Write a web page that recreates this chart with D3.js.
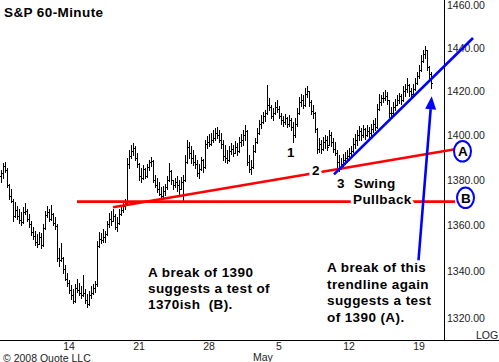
<!DOCTYPE html>
<html>
<head>
<meta charset="utf-8">
<script src="https://cdn.jsdelivr.net/npm/d3@7"></script>
<style>
    body { margin: 0; background: #fff; }
    svg { display: block; }
    text { font-family: "Liberation Sans", Arial, sans-serif; }
    .note { font-weight: bold; font-size: 13.5px; letter-spacing: 0.4px; fill: #000; }
    .tick { font-size: 10.5px; fill: #222; }
</style>
</head>
<body>
<svg id="chart" width="499" height="362"></svg>
<script>
// hourly bars, 7 per trading day, Apr 7 .. May 19 2008
const firstOpen = 1382;
const barHigh = [
    1384.7, 1387.8, 1388.2, 1385.6, 1378.5, 1375.9, 1371.5,
    1370.2, 1368.5, 1367.2, 1365.9, 1368.1, 1369.8, 1367.2,
    1365.1, 1362.0, 1359.5, 1357.7, 1356.4, 1357.3, 1356.9,
    1360.7, 1366.3, 1368.5, 1367.2, 1368.9, 1365.5, 1363.7,
    1360.7, 1350.0, 1352.6, 1346.5, 1343.0, 1339.3, 1336.3,
    1334.2, 1332.5, 1334.6, 1336.7, 1335.0, 1333.7, 1338.4,
    1332.5, 1330.4, 1331.7, 1333.7, 1334.6, 1335.9, 1353.4,
    1357.3, 1356.9, 1358.5, 1357.7, 1362.0, 1365.5, 1366.3,
    1367.2, 1365.1, 1363.7, 1367.2, 1368.5, 1370.2, 1371.5,
    1390.0, 1393.6, 1395.8, 1396.7, 1395.3, 1392.2, 1387.8,
    1385.6, 1386.9, 1385.6, 1387.3, 1389.1, 1390.4, 1389.0,
    1382.5, 1381.2, 1379.4, 1377.2, 1377.6, 1378.5, 1382.0,
    1387.8, 1384.7, 1380.3, 1381.2, 1382.0, 1380.3, 1381.6,
    1382.5, 1391.3, 1398.0, 1397.1, 1395.3, 1393.6, 1391.3,
    1389.1, 1387.3, 1390.4, 1389.6, 1398.0, 1399.8, 1400.7,
    1401.1, 1402.5, 1403.4, 1403.8, 1402.5, 1401.1, 1398.0,
    1395.8, 1393.6, 1395.3, 1396.7, 1395.8, 1397.6, 1396.7,
    1399.3, 1400.7, 1402.5, 1404.8, 1402.5, 1391.3, 1389.1,
    1395.8, 1398.9, 1403.4, 1407.0, 1409.3, 1410.7, 1411.6,
    1422.9, 1417.0, 1413.8, 1412.5, 1415.2, 1416.1, 1413.4,
    1410.2, 1408.8, 1409.8, 1408.4, 1409.3, 1407.9, 1406.1,
    1407.9, 1412.5, 1417.5, 1418.8, 1418.3, 1421.5, 1422.4,
    1420.1, 1416.1, 1413.8, 1410.7, 1403.4, 1398.9, 1398.0,
    1399.3, 1400.3, 1399.8, 1402.5, 1401.6, 1398.9, 1397.1,
    1393.6, 1391.3, 1390.0, 1391.8, 1392.7, 1393.6, 1394.5,
    1395.3, 1398.9, 1400.7, 1402.5, 1404.3, 1403.4, 1404.8,
    1403.4, 1404.8, 1403.8, 1405.2, 1407.0, 1407.9, 1414.3,
    1418.8, 1418.3, 1419.7, 1420.6, 1419.7, 1416.1, 1412.9,
    1415.2, 1416.6, 1418.3, 1419.2, 1418.8, 1422.4, 1423.3,
    1426.1, 1423.5, 1421.5, 1423.3, 1426.1, 1428.9, 1432.1,
    1436.8, 1439.1, 1440.9, 1439.1, 1431.7, 1428.9
];
const barLow = [
    1379.4, 1381.2, 1383.8, 1376.8, 1371.5, 1370.2, 1362.0,
    1363.7, 1362.9, 1361.2, 1360.3, 1361.0, 1365.1, 1362.0,
    1359.5, 1356.0, 1354.3, 1351.7, 1350.8, 1352.1, 1350.0,
    1351.0, 1358.5, 1363.7, 1362.0, 1362.5, 1360.3, 1358.5,
    1344.7, 1342.2, 1344.7, 1339.3, 1336.2, 1333.7, 1330.8,
    1328.2, 1326.5, 1327.0, 1331.2, 1329.9, 1328.7, 1329.4,
    1326.6, 1325.0, 1325.5, 1328.7, 1330.4, 1331.2, 1334.0,
    1350.5, 1352.6, 1353.0, 1352.9, 1356.0, 1359.5, 1360.3,
    1362.0, 1358.5, 1357.7, 1360.5, 1364.6, 1365.9, 1367.2,
    1369.5, 1385.6, 1390.0, 1391.3, 1389.1, 1386.0, 1380.3,
    1379.4, 1380.5, 1381.2, 1381.5, 1384.7, 1386.4, 1379.0,
    1376.8, 1374.6, 1373.3, 1371.5, 1372.4, 1373.3, 1375.9,
    1379.5, 1378.5, 1375.9, 1376.8, 1375.0, 1374.1, 1375.9,
    1370.7, 1379.5, 1387.5, 1390.0, 1387.8, 1386.9, 1385.6,
    1382.0, 1381.2, 1384.7, 1383.8, 1385.5, 1394.5, 1395.3,
    1395.8, 1397.1, 1398.0, 1398.9, 1397.1, 1394.5, 1389.1,
    1388.2, 1387.8, 1388.5, 1391.8, 1390.9, 1392.2, 1391.3,
    1392.5, 1395.3, 1395.8, 1398.0, 1386.9, 1383.8, 1382.9,
    1385.5, 1392.5, 1396.5, 1400.5, 1403.4, 1405.5, 1406.5,
    1409.5, 1411.6, 1407.9, 1407.0, 1409.8, 1410.7, 1407.9,
    1405.2, 1404.3, 1405.2, 1403.8, 1404.3, 1402.5, 1397.1,
    1399.5, 1404.5, 1409.5, 1413.4, 1412.5, 1413.5, 1417.5,
    1413.4, 1409.8, 1407.9, 1401.6, 1392.2, 1392.7, 1392.2,
    1393.6, 1394.5, 1393.6, 1395.8, 1395.3, 1392.7, 1391.3,
    1385.6, 1384.3, 1385.2, 1386.4, 1387.3, 1388.2, 1389.1,
    1391.0, 1392.7, 1394.5, 1395.8, 1398.0, 1398.0, 1399.3,
    1398.4, 1399.8, 1398.9, 1400.3, 1401.6, 1402.5, 1403.4,
    1411.5, 1413.8, 1415.2, 1416.1, 1414.3, 1408.4, 1407.9,
    1409.8, 1411.6, 1413.8, 1414.7, 1414.3, 1415.5, 1417.9,
    1419.7, 1417.9, 1417.0, 1418.8, 1420.6, 1423.3, 1426.1,
    1429.5, 1433.5, 1435.4, 1429.8, 1426.1, 1421.5
];
const barClose = [
    1383, 1386.5, 1384.5, 1378, 1373, 1371, 1364,
    1367, 1364, 1362.5, 1361.5, 1366, 1366.5, 1363,
    1360.5, 1357, 1355.5, 1353, 1352, 1355, 1351.5,
    1359, 1364.5, 1366, 1363, 1365, 1361, 1360,
    1346, 1345, 1346, 1341, 1337, 1335, 1332,
    1330, 1327.5, 1333, 1332, 1331, 1330, 1331,
    1328, 1326, 1330, 1331, 1333, 1334.5, 1351,
    1354, 1353.5, 1355, 1356.5, 1360.5, 1363, 1362,
    1364, 1359.5, 1361, 1365, 1367, 1368.5, 1370,
    1387, 1391, 1393, 1394.5, 1390, 1387, 1382,
    1381, 1385, 1382, 1386, 1388, 1388.5, 1380,
    1378, 1376, 1374, 1373, 1375, 1377, 1380,
    1384, 1380, 1378, 1379, 1378, 1376, 1379,
    1380, 1388, 1395, 1392, 1390, 1388, 1387,
    1383, 1385, 1389, 1386, 1396, 1397, 1396,
    1398, 1399, 1401, 1400, 1398, 1396, 1391,
    1390, 1389, 1393, 1394, 1392, 1395, 1393,
    1397, 1398, 1400, 1402, 1388, 1385, 1386,
    1393, 1397, 1401, 1405, 1406, 1409, 1410,
    1414, 1413, 1409, 1410, 1413, 1412, 1409,
    1407, 1406, 1408, 1405, 1407, 1404, 1400,
    1405, 1410, 1415, 1416, 1414, 1419, 1420,
    1415, 1411, 1410, 1403, 1394, 1396, 1394,
    1397, 1398, 1395, 1400, 1397, 1394, 1392,
    1388, 1386, 1387, 1389, 1390, 1391, 1392,
    1393, 1396, 1398, 1400, 1402, 1400, 1403,
    1400, 1402, 1401, 1403, 1405, 1404, 1412,
    1415, 1417, 1417, 1418, 1416, 1410, 1410,
    1413, 1414, 1416, 1418, 1416, 1420, 1421,
    1423, 1420, 1419, 1421, 1424, 1427, 1430,
    1434, 1437, 1439, 1431, 1428, 1424
];

// axis ticks
const priceTicks = [1320, 1340, 1360, 1380, 1400, 1420, 1440, 1460];
const dayTickIndex = [35, 70, 105, 140, 175, 210];
const dayTickLabels = ["14", "21", "28", "5", "12", "19"];

// drawn lines: [bar index, price]
const lineA = [[56, 1368.0], [227, 1393.8]];
const lineB = [[38, 1370.5], [227, 1370.5]];
const upTrend = [[166.5, 1382.6], [236, 1444.6]];
const arrowLine = [[208.75, 1344.9], [215.35, 1417.8]];
const circleA = [230.75, 1392.9];
const circleB = [232.25, 1372.2];

const width = 499, height = 362;
const axisX = 444.5, axisY = 340.5;

const svg = d3.select("#chart");

const x = d3.scaleLinear().domain([0, 222]).range([1, 445]);
const y = d3.scaleLog().domain([1310.4, 1462.4]).range([341, 0]);

// build bars
const bars = barHigh.map((h, i) => {
    const l = barLow[i];
    let o = i === 0 ? firstOpen : barClose[i - 1];
    o = Math.max(l, Math.min(h, o));
    return { i, o, h, l, c: barClose[i] };
});

// axes lines
svg.append("line")
    .attr("x1", axisX).attr("x2", axisX)
    .attr("y1", 0).attr("y2", axisY)
    .attr("stroke", "#000").attr("stroke-width", 1);
svg.append("line")
    .attr("x1", 0).attr("x2", width)
    .attr("y1", axisY).attr("y2", axisY)
    .attr("stroke", "#000").attr("stroke-width", 1);

// price labels
svg.append("g")
    .selectAll("text")
    .data(priceTicks)
    .enter().append("text")
    .attr("class", "tick")
    .attr("x", 447)
    .attr("y", d => y(d))
    .attr("dy", "0.36em")
    .text(d => d3.format(".2f")(d));

svg.append("text").attr("class", "tick")
    .attr("x", 476).attr("y", 338.5)
    .text("LOG");

// date labels
svg.append("g")
    .selectAll("text")
    .data(dayTickIndex)
    .enter().append("text")
    .attr("class", "tick")
    .attr("x", d => x(d) - 2)
    .attr("y", 349.5)
    .attr("text-anchor", "middle")
    .text((d, k) => dayTickLabels[k]);

svg.append("text").attr("class", "tick")
    .attr("x", 253).attr("y", 361)
    .text("May");

svg.append("text").attr("class", "tick")
    .attr("x", 3).attr("y", 361.5)
    .text("\u00a9 2008 Quote LLC");

// OHLC bars, crisp 1px strokes
const px = v => Math.round(v) + 0.5;

const barG = svg.append("g")
    .attr("stroke", "#000")
    .attr("stroke-width", 1)
    .attr("shape-rendering", "crispEdges")
    .attr("fill", "none");

barG.selectAll("path")
    .data(bars)
    .enter().append("path")
    .attr("d", d => {
        const bx = px(x(d.i));
        const top = Math.round(y(d.h)), bot = Math.round(y(d.l)) + 1;
        return `M${bx},${top}V${bot}` +
            `M${bx - 1.5},${px(y(d.o))}H${bx}` +
            `M${bx},${px(y(d.c))}H${bx + 1.5}`;
    });

// red support lines
const toPx = p => [x(p[0]), y(p[1])];
const lineGen = d3.line().x(p => x(p[0])).y(p => y(p[1]));

svg.append("path")
    .attr("d", lineGen(lineA))
    .attr("stroke", "#ff0000")
    .attr("stroke-width", 2.6)
    .attr("fill", "none");

svg.append("path")
    .attr("d", lineGen(lineB))
    .attr("stroke", "#ff0000")
    .attr("stroke-width", 2.6)
    .attr("fill", "none");

// blue up trendline
svg.append("path")
    .attr("d", lineGen(upTrend))
    .attr("stroke", "#0000ff")
    .attr("stroke-width", 2.6)
    .attr("fill", "none");

// blue arrow pointing at the break
const [ax0, ay0] = toPx(arrowLine[0]);
const [ax1, ay1] = toPx(arrowLine[1]);
const len = Math.hypot(ax1 - ax0, ay1 - ay0);
const ux = (ax1 - ax0) / len, uy = (ay1 - ay0) / len;
const headLen = 13, headHalf = 5.5;
const hx = ax1 - ux * headLen, hy = ay1 - uy * headLen;

svg.append("line")
    .attr("x1", ax0).attr("y1", ay0)
    .attr("x2", hx).attr("y2", hy)
    .attr("stroke", "#0000ff")
    .attr("stroke-width", 2.6);

svg.append("path")
    .attr("d", `M${ax1},${ay1}L${hx - uy * headHalf},${hy + ux * headHalf}L${hx + uy * headHalf},${hy - ux * headHalf}Z`)
    .attr("fill", "#0000ff");

// circled letters
[[circleA, "A"], [circleB, "B"]].forEach(([pt, letter]) => {
    const [cx, cy] = toPx(pt);
    svg.append("ellipse")
        .attr("cx", cx).attr("cy", cy)
        .attr("rx", 8.5).attr("ry", 10.3)
        .attr("fill", "#fff")
        .attr("stroke", "#0000ff")
        .attr("stroke-width", 2);
    svg.append("text").attr("class", "note")
        .attr("x", cx + 0.3).attr("y", cy + 4.8)
        .attr("text-anchor", "middle")
        .style("letter-spacing", "0px")
        .text(letter);
});

// labels sitting on the lines get a white halo
function note(tx, ty, str, halo) {
    const t = svg.append("text")
        .attr("class", "note")
        .attr("x", tx).attr("y", ty)
        .style("white-space", "pre")
        .text(str);
    if (halo) {
        t.attr("stroke", "#fff")
            .attr("stroke-width", 6)
            .attr("stroke-linejoin", "round")
            .attr("paint-order", "stroke");
    }
    return t;
}

note(4, 16.8, "S&P 60-Minute");
note(287, 157, "1");
note(312, 174.5, "2", true);
note(337, 188.3, "3");
note(354, 188.3, "Swing");
note(353, 204, "Pullback", true);

// comment blocks
const leftNote = ["A break of 1390", "suggests a test of", "1370ish  (B)."];
const rightNote = ["A break of this", "trendline again", "suggests a test", "of 1390 (A)."];

leftNote.forEach((s, k) => note(148, 277.3 + k * 16, s));
rightNote.forEach((s, k) => note(327, 272.3 + k * 16.5, s));
</script>
</body>
</html>
